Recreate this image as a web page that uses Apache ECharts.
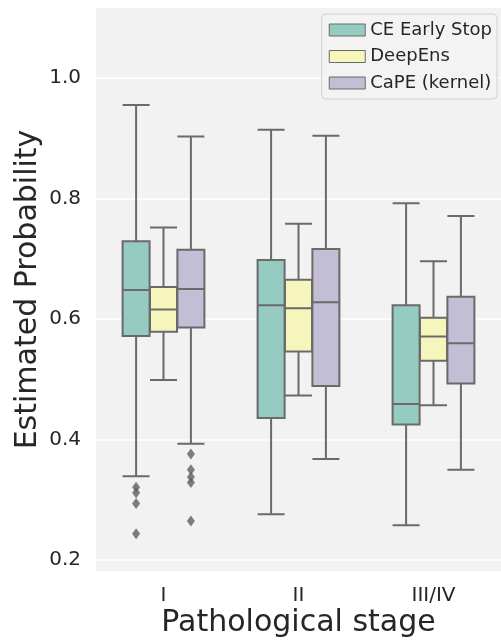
<!DOCTYPE html>
<html><head><meta charset="utf-8">
<script src="https://cdn.jsdelivr.net/npm/echarts@6/dist/echarts.min.js"></script>
<style>html,body{margin:0;padding:0;background:#fff}#c{width:501px;height:642px}</style>
</head><body><div id="c"></div>
<script>
const categories = ['I', 'II', 'III/IV'];
const seriesNames = ['CE Early Stop', 'DeepEns', 'CaPE (kernel)'];
// [min whisker, Q1, median, Q3, max whisker]
const ceStats = [[0.339,0.572,0.648,0.729,0.955],[0.276,0.436,0.623,0.698,0.914],[0.258,0.425,0.459,0.623,0.792]];
const deStats = [[0.499,0.579,0.616,0.653,0.752],[0.473,0.546,0.618,0.665,0.758],[0.457,0.531,0.571,0.602,0.696]];
const capeStats = [[0.393,0.586,0.650,0.715,0.903],[0.368,0.489,0.628,0.716,0.904],[0.350,0.493,0.560,0.637,0.771]];
const ceOutliers = [['I',0.321],['I',0.312],['I',0.294],['I',0.244]];
const capeOutliers = [['I',0.376],['I',0.350],['I',0.338],['I',0.329],['I',0.265]];
const yTicks = [0.2, 0.4, 0.6, 0.8, 1.0];

const colors = ['#96cbc1', '#f6f6bc', '#c1bed6'];
const lineGray = '#6a6a6a';
const textColor = '#262626';
const font = 'DejaVu Sans';
const yMin = 0.182, yMax = 1.116;
const shift = 27.4;
const boxW = 27;
const gLeft = 96, gWidth = 405, gTop = 8, gBottom = 71;

const statsList = [ceStats, deStats, capeStats];
const grids = [-shift, 0, shift].map((dx, i) => ({
  left: gLeft + dx, width: gWidth, top: gTop, bottom: gBottom,
  outerBoundsMode: 'none', containLabel: false,
  show: i === 1, backgroundColor: '#f2f2f2', borderWidth: 0
}));
const xAxes = grids.map((g, i) => ({
  type: 'category', gridIndex: i, data: categories, show: i === 1,
  boundaryGap: true,
  axisLine: {show: false}, axisTick: {show: false}, splitLine: {show: false},
  axisLabel: {color: textColor, fontFamily: font, fontSize: 20, margin: 15},
  name: i === 1 ? 'Pathological stage' : '', nameLocation: 'middle', nameGap: 37,
  nameMoveOverlap: false,
  nameTextStyle: {color: textColor, fontFamily: font, fontSize: 30}
}));
const yAxes = grids.map((g, i) => ({
  type: 'value', gridIndex: i, min: yMin, max: yMax, show: i === 1,
  axisLine: {show: false},
  axisTick: {show: false, customValues: yTicks},
  axisLabel: {color: textColor, fontFamily: font, fontSize: 20, margin: 15,
    customValues: yTicks, formatter: v => v.toFixed(1)},
  splitLine: {show: i === 1, lineStyle: {color: '#ffffff', width: 1.5}},
  name: i === 1 ? 'Estimated Probability' : '', nameLocation: 'middle', nameGap: 53,
  nameMoveOverlap: false,
  nameTextStyle: {color: textColor, fontFamily: font, fontSize: 30}
}));

const series = statsList.map((st, i) => ({
  name: seriesNames[i], type: 'boxplot', xAxisIndex: i, yAxisIndex: i,
  data: st, boxWidth: [boxW, boxW],
  itemStyle: {color: colors[i], borderColor: lineGray, borderWidth: 2},
  emphasis: {disabled: true}, z: 3
}));
series.push({
  type: 'scatter', xAxisIndex: 0, yAxisIndex: 0, data: ceOutliers,
  symbol: 'diamond', symbolSize: [8, 11], itemStyle: {color: '#5f5f5f'}, z: 4
});
series.push({
  type: 'scatter', xAxisIndex: 2, yAxisIndex: 2, data: capeOutliers,
  symbol: 'diamond', symbolSize: [8, 11], itemStyle: {color: '#5f5f5f'}, z: 4
});

const chart = echarts.init(document.getElementById('c'), null, {renderer: 'canvas'});
chart.setOption({
  animation: false,
  backgroundColor: '#ffffff',
  grid: grids, xAxis: xAxes, yAxis: yAxes, series: series,
  legend: {
    data: seriesNames.map((n, i) => ({name: n, itemStyle: {color: colors[i], borderColor: lineGray, borderWidth: 1}})),
    orient: 'vertical', right: 4, top: 14,
    icon: 'rect', itemWidth: 36, itemHeight: 12, itemGap: 6.5,
    padding: [6, 5, 6, 7],
    backgroundColor: 'rgba(242,242,242,0.8)', borderColor: '#d0d0d0', borderWidth: 1, borderRadius: 4,
    textStyle: {color: textColor, fontFamily: font, fontSize: 18, lineHeight: 20}
  }
});
</script></body></html>
